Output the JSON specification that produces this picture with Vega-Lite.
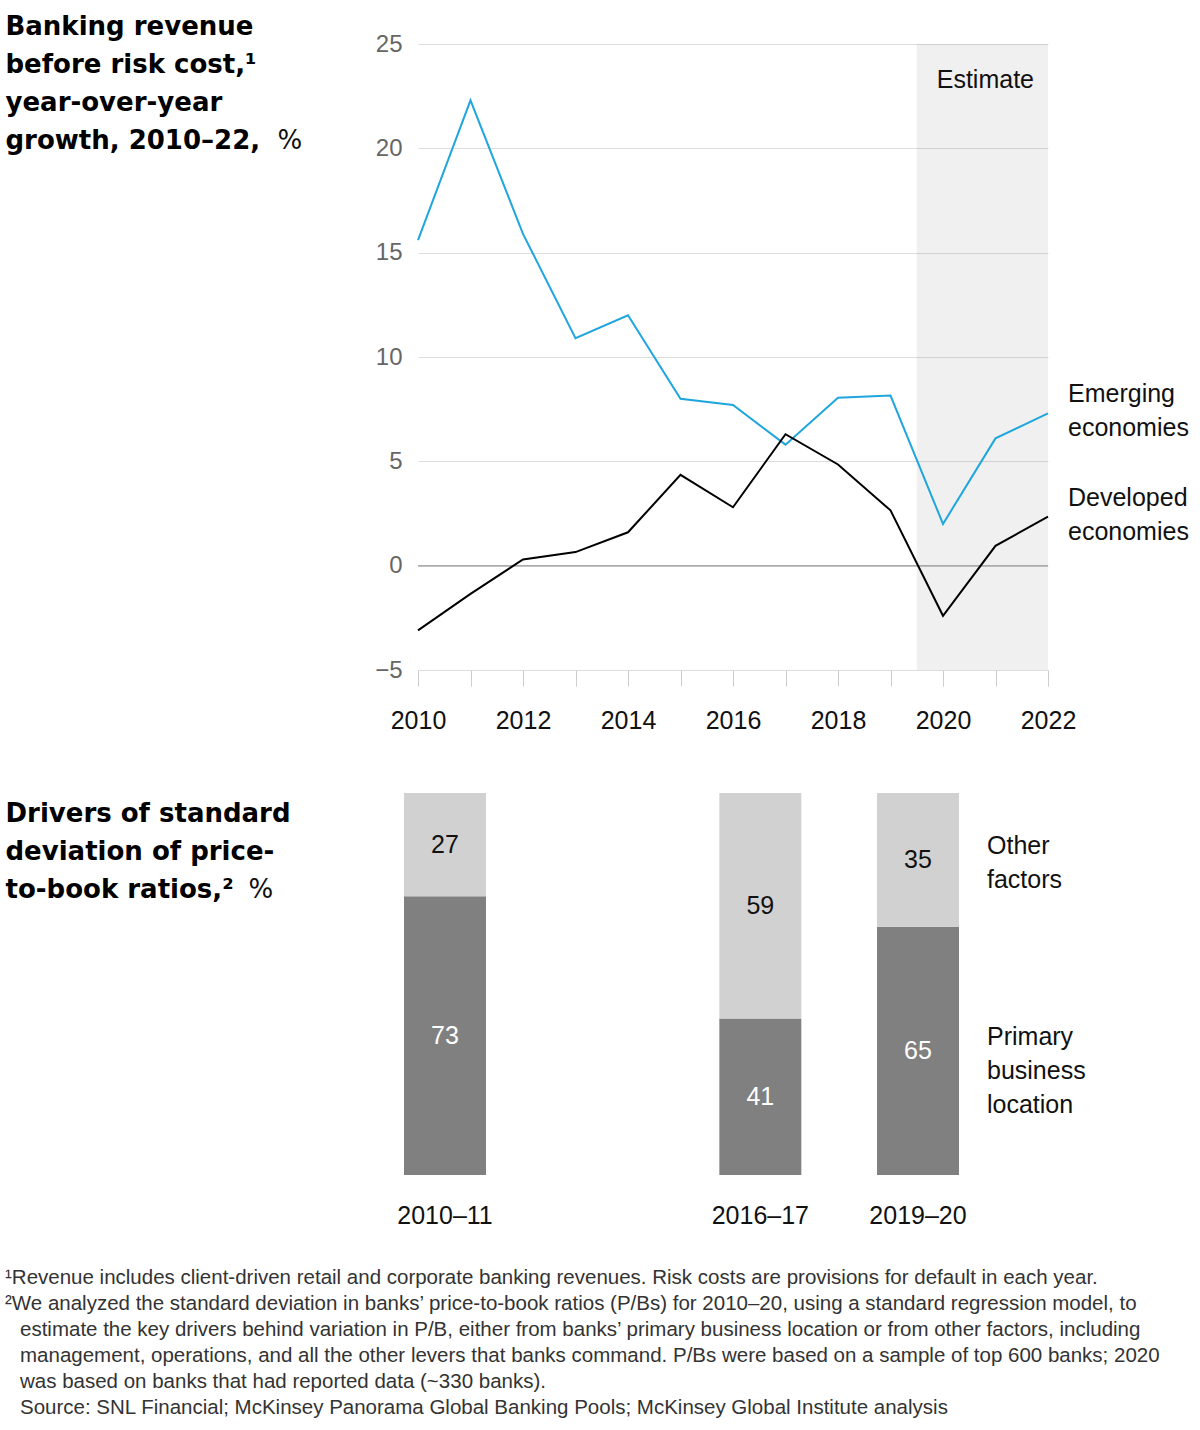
{
  "$schema": "https://vega.github.io/schema/vega-lite/v6.json",
  "padding": {"left": 5, "top": 13, "right": 5, "bottom": 5},
  "config": {
    "view": {"stroke": null},
    "font": "Liberation Sans",
    "text": {"font": "Liberation Sans"}
  },
  "title": {
    "text": [
      "¹Revenue includes client-driven retail and corporate banking revenues. Risk costs are provisions for default in each year.",
      "²We analyzed the standard deviation in banks’ price-to-book ratios (P/Bs) for 2010–20, using a standard regression model, to",
      "\u2800estimate the key drivers behind variation in P/B, either from banks’ primary business location or from other factors, including",
      "\u2800management, operations, and all the other levers that banks command. P/Bs were based on a sample of top 600 banks; 2020",
      "\u2800was based on banks that had reported data (~330 banks).",
      "\u2800Source: SNL Financial; McKinsey Panorama Global Banking Pools; McKinsey Global Institute analysis"
    ],
    "orient": "bottom",
    "anchor": "start",
    "frame": "bounds",
    "font": "Liberation Sans",
    "fontSize": 20.5,
    "fontWeight": "normal",
    "color": "#333333",
    "lineHeight": 26,
    "offset": 40
  },
  "datasets": {
    "revenue": [
      {"year": 2010, "series": "Emerging economies", "value": 15.6},
      {"year": 2011, "series": "Emerging economies", "value": 22.3},
      {"year": 2012, "series": "Emerging economies", "value": 15.9},
      {"year": 2013, "series": "Emerging economies", "value": 10.9},
      {"year": 2014, "series": "Emerging economies", "value": 12.0},
      {"year": 2015, "series": "Emerging economies", "value": 8.0},
      {"year": 2016, "series": "Emerging economies", "value": 7.7},
      {"year": 2017, "series": "Emerging economies", "value": 5.8},
      {"year": 2018, "series": "Emerging economies", "value": 8.05},
      {"year": 2019, "series": "Emerging economies", "value": 8.15},
      {"year": 2020, "series": "Emerging economies", "value": 2.0},
      {"year": 2021, "series": "Emerging economies", "value": 6.1},
      {"year": 2022, "series": "Emerging economies", "value": 7.3},
      {"year": 2010, "series": "Developed economies", "value": -3.1},
      {"year": 2011, "series": "Developed economies", "value": -1.35},
      {"year": 2012, "series": "Developed economies", "value": 0.3},
      {"year": 2013, "series": "Developed economies", "value": 0.65},
      {"year": 2014, "series": "Developed economies", "value": 1.6},
      {"year": 2015, "series": "Developed economies", "value": 4.35},
      {"year": 2016, "series": "Developed economies", "value": 2.8},
      {"year": 2017, "series": "Developed economies", "value": 6.3},
      {"year": 2018, "series": "Developed economies", "value": 4.85},
      {"year": 2019, "series": "Developed economies", "value": 2.65},
      {"year": 2020, "series": "Developed economies", "value": -2.4},
      {"year": 2021, "series": "Developed economies", "value": 0.95},
      {"year": 2022, "series": "Developed economies", "value": 2.35}
    ],
    "estimate": [
      {"start": 2019.5, "end": 2022, "bottom": -5, "top": 25, "label": "Estimate"}
    ],
    "drivers": [
      {"period": "2010–11", "factor": "Primary business location", "share": 73},
      {"period": "2010–11", "factor": "Other factors", "share": 27},
      {"period": "2016–17", "factor": "Primary business location", "share": 41},
      {"period": "2016–17", "factor": "Other factors", "share": 59},
      {"period": "2019–20", "factor": "Primary business location", "share": 65},
      {"period": "2019–20", "factor": "Other factors", "share": 35}
    ]
  },
  "resolve": {"scale": {"color": "independent"}},
  "spacing": 60,
  "vconcat": [
    {
      "width": 630,
      "height": 626,
      "layer": [
        {
          "data": {"name": "estimate"},
          "mark": {"type": "rect", "color": "#000000", "opacity": 0.06},
          "encoding": {
            "x": {"field": "start", "type": "quantitative"},
            "x2": {"field": "end"},
            "y": {"field": "bottom", "type": "quantitative"},
            "y2": {"field": "top"}
          }
        },
        {
          "data": {"name": "estimate"},
          "mark": {"type": "text", "align": "right", "baseline": "middle", "dx": -14, "dy": 36, "fontSize": 25, "color": "#111111"},
          "encoding": {
            "x": {"field": "end", "type": "quantitative"},
            "y": {"field": "top", "type": "quantitative"},
            "text": {"field": "label"}
          }
        },
        {
          "data": {"values": [{"level": 0}]},
          "mark": {"type": "rule", "color": "#aaaaaa", "strokeWidth": 1.5},
          "encoding": {
            "y": {"field": "level", "type": "quantitative"}
          }
        },
        {
          "data": {"name": "revenue"},
          "mark": {"type": "line", "strokeWidth": 2},
          "encoding": {
            "x": {
              "field": "year",
              "type": "quantitative",
              "scale": {"domain": [2010, 2022], "nice": false, "zero": false},
              "axis": {
                "values": [2010, 2011, 2012, 2013, 2014, 2015, 2016, 2017, 2018, 2019, 2020, 2021, 2022],
                "format": "d",
                "labelExpr": "datum.value % 2 === 0 ? datum.label : ''",
                "labelFlush": false,
                "labelOverlap": false,
                "labelBound": false,
                "grid": false,
                "domain": false,
                "ticks": true,
                "tickSize": 16,
                "tickColor": "#cccccc",
                "labelPadding": 22,
                "labelFontSize": 25,
                "labelColor": "#111111",
                "title": "%",
                "titleX": -141,
                "titleY": -522,
                "titleAlign": "left",
                "titleBaseline": "alphabetic",
                "titleAngle": 0,
                "titleFont": "DejaVu Sans",
                "titleFontSize": 26,
                "titleFontWeight": "normal",
                "titleColor": "#111111"
              }
            },
            "y": {
              "field": "value",
              "type": "quantitative",
              "scale": {"domain": [-5, 25], "nice": false, "zero": false},
              "axis": {
                "values": [-5, 0, 5, 10, 15, 20, 25],
                "grid": true,
                "gridColor": "#dddddd",
                "domain": false,
                "ticks": false,
                "labelPadding": 16,
                "labelFontSize": 24,
                "labelColor": "#666666",
                "title": ["Banking revenue", "before risk cost,¹", "year-over-year", "growth, 2010–22,"],
                "titleX": -413,
                "titleY": -10,
                "titleAngle": 0,
                "titleAlign": "left",
                "titleBaseline": "alphabetic",
                "titleFont": "DejaVu Sans",
                "titleFontSize": 26,
                "titleFontWeight": "bold",
                "titleLineHeight": 38,
                "titleColor": "#000000"
              }
            },
            "color": {
              "field": "series",
              "type": "nominal",
              "scale": {"domain": ["Emerging economies", "Developed economies"], "range": ["#1fa6de", "#000000"]},
              "legend": null
            }
          }
        },
        {
          "data": {"name": "revenue"},
          "transform": [{"filter": "datum.year === 2022"}],
          "mark": {"type": "text", "align": "left", "baseline": "middle", "dx": 20, "dy": -19, "fontSize": 25, "lineBreak": " ", "lineHeight": 34, "color": "#111111"},
          "encoding": {
            "x": {"field": "year", "type": "quantitative"},
            "y": {"field": "value", "type": "quantitative"},
            "text": {"field": "series"}
          }
        }
      ]
    },
    {
      "width": 555,
      "height": 382,
      "data": {"name": "drivers"},
      "encoding": {
        "x": {
          "field": "period",
          "type": "nominal",
          "scale": {"domain": ["2010–11", " ", "2016–17", "2019–20"], "range": [-14, 541], "paddingInner": 0.48, "paddingOuter": 0},
          "axis": {
            "labelAngle": 0,
            "labelFontSize": 25,
            "labelColor": "#111111",
            "labelPadding": 28,
            "ticks": false,
            "domain": false,
            "title": "%",
            "titleX": -170,
            "titleY": -278,
            "titleAlign": "left",
            "titleBaseline": "alphabetic",
            "titleAngle": 0,
            "titleFont": "DejaVu Sans",
            "titleFontSize": 26,
            "titleFontWeight": "normal",
            "titleColor": "#111111"
          }
        }
      },
      "layer": [
        {
          "mark": {"type": "bar"},
          "encoding": {
            "y": {
              "field": "share",
              "type": "quantitative",
              "stack": "zero",
              "scale": {"domain": [0, 100], "nice": false},
              "axis": {
                "labels": false,
                "ticks": false,
                "domain": false,
                "grid": false,
                "title": ["Drivers of standard", "deviation of price-", "to-book ratios,²"],
                "titleX": -413,
                "titleY": 28,
                "titleAngle": 0,
                "titleAlign": "left",
                "titleBaseline": "alphabetic",
                "titleFont": "DejaVu Sans",
                "titleFontSize": 26,
                "titleFontWeight": "bold",
                "titleLineHeight": 38,
                "titleColor": "#000000"
              }
            },
            "color": {
              "field": "factor",
              "type": "nominal",
              "scale": {"domain": ["Primary business location", "Other factors"], "range": ["#808080", "#d1d1d1"]},
              "legend": null
            },
            "order": {"field": "factor", "sort": "descending"}
          }
        },
        {
          "mark": {"type": "text", "fontSize": 25, "baseline": "middle"},
          "encoding": {
            "y": {"field": "share", "type": "quantitative", "stack": "zero", "bandPosition": 0.5},
            "order": {"field": "factor", "sort": "descending"},
            "text": {"field": "share"},
            "color": {
              "condition": {"test": "datum.factor === 'Primary business location'", "value": "#ffffff"},
              "value": "#111111"
            }
          }
        },
        {
          "transform": [{"filter": "datum.period === '2019–20'"}],
          "mark": {"type": "text", "fontSize": 25, "align": "left", "baseline": "middle", "dx": 28, "dy": -14, "lineBreak": " ", "lineHeight": 34, "color": "#111111"},
          "encoding": {
            "x": {"field": "period", "type": "nominal", "bandPosition": 1},
            "y": {"field": "share", "type": "quantitative", "stack": "zero", "bandPosition": 0.5},
            "order": {"field": "factor", "sort": "descending"},
            "text": {"field": "factor"}
          }
        }
      ]
    }
  ]
}
